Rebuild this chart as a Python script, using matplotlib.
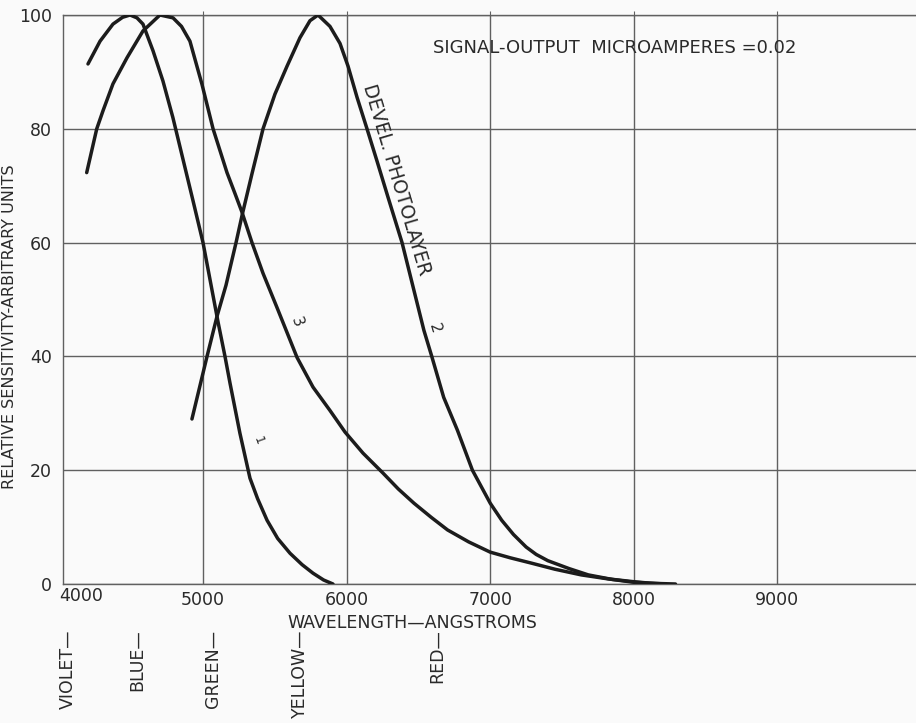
import matplotlib
matplotlib.use('Agg')
import matplotlib.pyplot as plt

# curve 1
wave1 = [4199, 4283, 4373, 4440, 4492, 4540, 4582, 4652, 4721, 4790, 4930, 5000,
         5105, 5153, 5188, 5257, 5327, 5380, 5446, 5520, 5606, 5690, 5766, 5840, 5905]
sens1 = [91.4, 95.4, 98.4, 99.6, 100, 99.5, 98.4, 93.7, 88.4, 82, 67.4, 60,
         46, 40, 35.3, 26.5, 18.6, 15, 11.2, 8, 5.4, 3.4, 1.9, 0.7, 0]

# curve 2 (devel. photolayer)
wave2 = [4923, 5028, 5097, 5160, 5230, 5272, 5341, 5418, 5501, 5585, 5675, 5745,
         5801, 5884, 5954, 6010, 6073, 6142, 6212, 6288, 6386, 6460, 6538, 6593,
         6676, 6772, 6876, 7000, 7080, 7162, 7250, 7320, 7401, 7550, 7683, 7850,
         8000, 8150, 8290]
sens2 = [29, 40, 47, 52.5, 60, 64.8, 72.1, 80, 86.1, 91, 96, 99,
         100, 98, 95, 91, 85.5, 80, 74.3, 68, 60, 52.5, 44.6, 40,
         32.8, 27, 20, 14.2, 11.2, 8.7, 6.5, 5.2, 4.1, 2.7, 1.6, 0.8,
         0.3, 0.1, 0]

# curve 3
wave3 = [4190, 4260, 4304, 4373, 4471, 4582, 4700, 4791, 4850, 4909, 4993, 5070,
         5167, 5220, 5272, 5341, 5418, 5515, 5655, 5766, 5884, 5989, 6114, 6253,
         6360, 6469, 6590, 6703, 6850, 7000, 7140, 7282, 7450, 7634, 7820, 8000,
         8110, 8220]
sens3 = [72.3, 80, 83.2, 87.9, 92.5, 97.2, 100, 99.5, 98, 95.4, 87.8, 80,
         72.3, 68.8, 65.3, 60, 54.6, 48.6, 39.8, 34.6, 30.5, 26.7, 23, 19.5,
         16.7, 14.2, 11.7, 9.5, 7.4, 5.6, 4.6, 3.7, 2.6, 1.6, 0.9, 0.4,
         0.15, 0]

xticks = [5000, 6000, 7000, 8000, 9000]
yticks = [0, 20, 40, 60, 80, 100]

colour_names = ['VIOLET—', 'BLUE—', 'GREEN—', 'YELLOW—', 'RED—']
colour_waves = [4060, 4540, 5070, 5675, 6629]

ink = '#1c1c1c'
gridc = '#606060'
txt = '#2a2a2a'

fig = plt.figure(figsize=(9.16, 7.23), dpi=100)
fig.patch.set_facecolor('#fafafa')
ax = fig.add_axes([63/916, 139/723, (916-63)/916, (584-15)/723])
ax.set_facecolor('#fafafa')

for w, s in [(wave1, sens1), (wave2, sens2), (wave3, sens3)]:
    ax.plot(w, s, color=ink, linewidth=2.5, solid_joinstyle='round', solid_capstyle='round', zorder=3)

ax.set_xlim(4025, 9965)
ax.set_ylim(0, 100)
ax.set_xticks(xticks)
ax.set_yticks(yticks)
ax.grid(True, color=gridc, linewidth=1.0)
for side in ['left', 'bottom', 'top']:
    ax.spines[side].set_color(gridc)
    ax.spines[side].set_linewidth(1.0)
ax.spines['right'].set_visible(False)
ax.tick_params(axis='both', labelsize=12.5, labelcolor=txt, color=gridc)
ax.tick_params(axis='x', top=True, bottom=False, length=3, pad=2)
ax.tick_params(axis='y', length=0, pad=8)

# left edge label of the wavelength scale
ax.annotate('4000', xy=(0, 0), xycoords='axes fraction', xytext=(-3, -2),
            textcoords='offset points', ha='left', va='top', fontsize=12.5, color=txt)

ax.set_xlabel('WAVELENGTH—ANGSTROMS', fontsize=12.5, color=txt)
ax.xaxis.set_label_coords(0.409, -0.052)
ax.set_ylabel('RELATIVE SENSITIVITY-ARBITRARY UNITS', fontsize=11.5, color=txt)
ax.yaxis.set_label_coords(-0.054, 0.453)

ax.text(6602, 94.2, 'SIGNAL-OUTPUT  MICROAMPERES =0.02', fontsize=13, color=txt,
        ha='left', va='center')
ax.text(6345, 71, 'DEVEL. PHOTOLAYER', fontsize=13.5, color=txt, rotation=-73.5,
        ha='center', va='center')
ax.text(6616, 45, '2', fontsize=11, color=txt, rotation=-73, ha='center', va='center')
ax.text(5655, 46, '3', fontsize=11, color=txt, rotation=-70, ha='center', va='center')
ax.text(5383, 25.3, '1', fontsize=9, color=txt, rotation=-70, ha='center', va='center')

trans = ax.get_xaxis_transform()
for name, w in zip(colour_names, colour_waves):
    ax.text(w, -0.08, name, transform=trans, rotation=90, fontsize=12.5, color=txt,
            ha='center', va='top', clip_on=False)

fig.savefig('out.png', dpi=100, facecolor=fig.get_facecolor())
